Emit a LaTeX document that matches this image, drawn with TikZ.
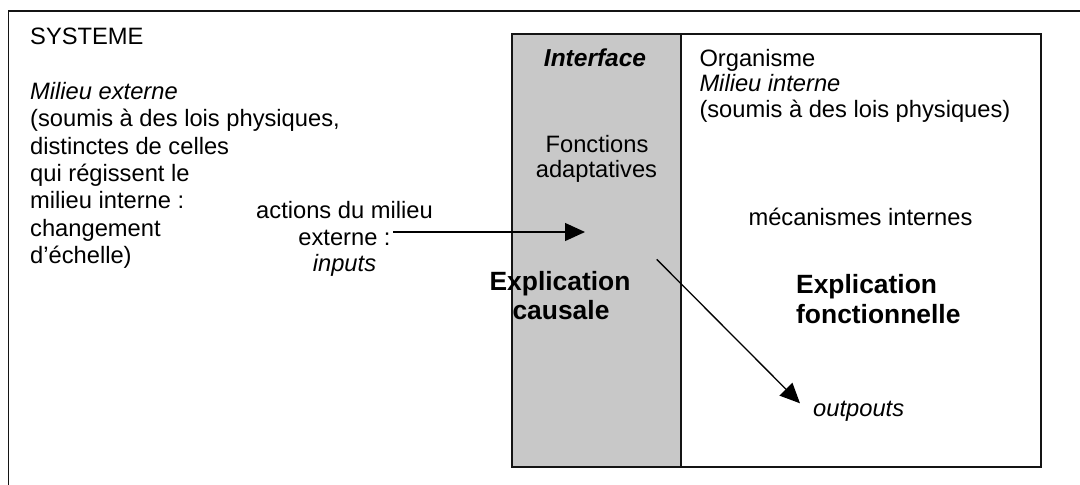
\documentclass[tikz,border=0pt]{standalone}
\usepackage{fontspec}
\setmainfont{Liberation Sans}
\usetikzlibrary{arrows.meta}
\definecolor{ifgrey}{RGB}{200,200,200}
\definecolor{frame}{RGB}{20,20,20}
\tikzset{
  reg/.style={inner sep=0pt, font=\fontsize{23.7}{27.3}\selectfont},
  lft/.style={reg, anchor=base west},
  ctr/.style={reg, anchor=base},
  bigb/.style={inner sep=0pt, font=\fontsize{26.4}{30}\selectfont\bfseries},
  boxline/.style={draw=frame, line width=1.5pt},
  conn/.style={draw=black, line width=1.3pt, -{Triangle[length=20pt,width=18pt]}}
}
\begin{document}
\begin{tikzpicture}[x=1pt,y=-1pt]
\useasboundingbox (0,0) rectangle (1080,485);
\clip (0,0) rectangle (1080,485);
% outer frame (partially cut off)
\draw[boxline] (8.5,11) rectangle (1090,495);
% interface and organism boxes
\path[boxline, fill=ifgrey] (512,34) rectangle (681,467);
\path[boxline, fill=white] (681,34) rectangle (1041,467);

% left column
\node[lft] (sys) at (30,44) {SYSTEME};
\node[lft] (me1) at (30,99) {\itshape Milieu externe};
\node[lft] (me2) at (30,126.5) {(soumis à des lois physiques,};
\node[lft] (me3) at (30,154) {distinctes de celles};
\node[lft] (me4) at (30,181) {qui régissent le};
\node[lft] (me5) at (30,208.5) {milieu interne :};
\node[lft] (me6) at (30,236) {changement};
\node[lft] (me7) at (30,263) {d’échelle)};

% actions
\node[ctr] (ac1) at (344.5,218) {actions du milieu};
\node[ctr] (ac2) at (344.5,245) {externe :};
\node[ctr] (ac3) at (344.5,271) {\itshape inputs};

% interface column
\node[bigb, font=\fontsize{24.5}{28}\selectfont\bfseries\itshape, anchor=base] (intf) at (595,66) {Interface};
\node[ctr] (fo1) at (597,152.5) {Fonctions};
\node[ctr] (fo2) at (596.5,177) {adaptatives};
\node[bigb, anchor=base] (ec1) at (560,290.7) {Explication};
\node[bigb, anchor=base] (ec2) at (561,319) {causale};

% organism column
\node[lft] (or1) at (699.3,66) {Organisme};
\node[lft] (or2) at (699.3,91.5) {\itshape Milieu interne};
\node[lft] (or3) at (699.3,117) {(soumis à des lois physiques)};
\node[ctr] (mec) at (860.5,225) {mécanismes internes};
\node[bigb, anchor=base west] (ef1) at (796,293.3) {Explication};
\node[bigb, anchor=base west] (ef2) at (796,323.3) {fonctionnelle};
\node[reg, anchor=base west, font=\fontsize{23.7}{27.3}\selectfont\itshape] (out) at (813,416) {outpouts};

% connectors
\coordinate (inS) at (393,232);
\coordinate (inE) at (585,232);
\coordinate (outS) at (656.7,259.3);
\coordinate (outE) at (800,403.3);
\draw[conn] (inS) -- (inE);
\draw[conn] (outS) -- (outE);
\end{tikzpicture}
\end{document}
